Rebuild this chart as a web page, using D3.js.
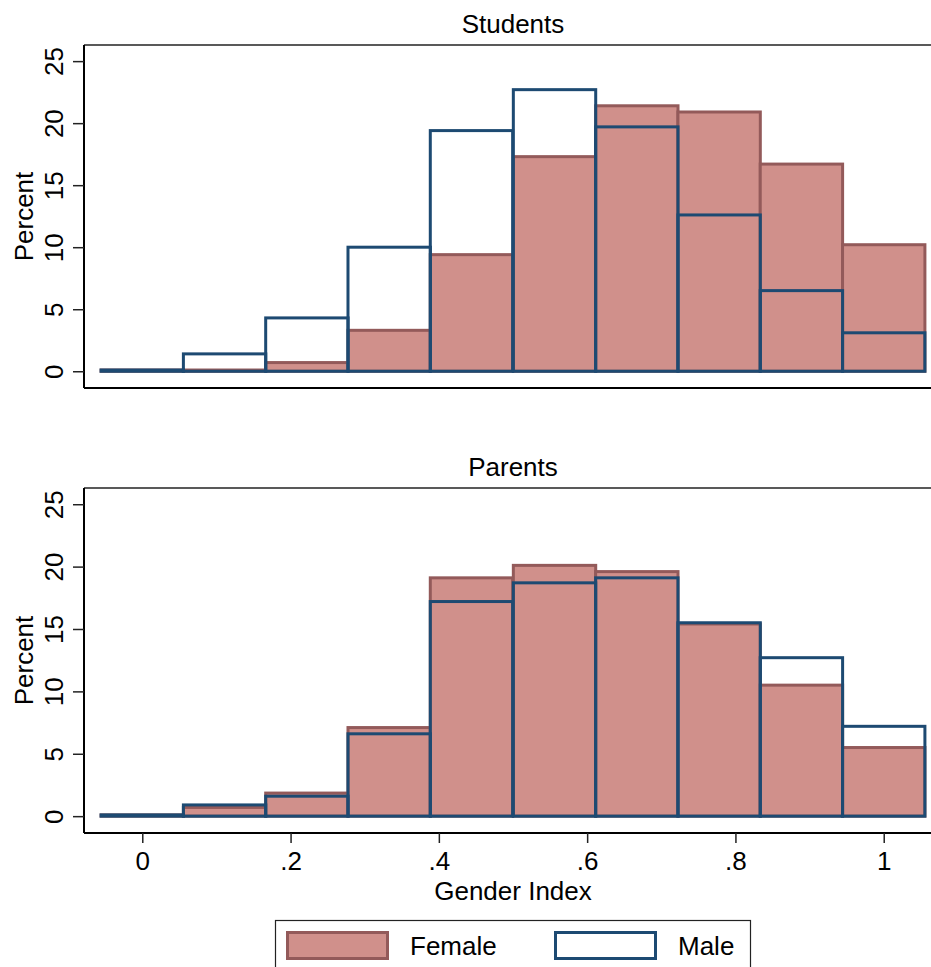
<!DOCTYPE html>
<html>
<head>
<meta charset="utf-8">
<script src="https://cdn.jsdelivr.net/npm/d3@7"></script>
<style>
  body { margin: 0; background: #fff; }
  svg { display: block; font-family: "Liberation Sans", Arial, sans-serif; }
</style>
</head>
<body>
<div id="chart"></div>
<script>
// bin centres of the Gender Index histogram (width 1/9)
const binCenters = [0, 0.111, 0.222, 0.333, 0.444, 0.556, 0.667, 0.778, 0.889, 1];
const binWidth = 0.1111;

const panels = ["Students", "Parents"];
const femaleValues = {
  Students: [0.1, 0.1, 0.7, 3.3, 9.4, 17.3, 21.4, 20.9, 16.7, 10.2],
  Parents:  [0.1, 0.7, 1.85, 7.1, 19.1, 20.1, 19.6, 15.4, 10.5, 5.5]
};
const maleValues = {
  Students: [0.1, 1.4, 4.3, 10.0, 19.4, 22.7, 19.7, 12.6, 6.5, 3.1],
  Parents:  [0.1, 0.9, 1.6, 6.6, 17.2, 18.7, 19.1, 15.5, 12.7, 7.2]
};

const xTicks = [0, 0.2, 0.4, 0.6, 0.8, 1];
const yTicks = [0, 5, 10, 15, 20, 25];
const legendLabels = ["Female", "Male"];

const femaleFill = "#d0908b";
const femaleStroke = "#935a5a";
const maleStroke = "#1d4a72";
const fontSize = "26px";

const width = 931;
const height = 967;

const svg = d3.select("#chart")
    .append("svg")
    .attr("width", width)
    .attr("height", height);

const x = d3.scaleLinear()
    .domain([-0.0786, 1.0786])
    .range([84, 942]);

const panelTops = [45, 488];
const panelBottoms = [388, 833];

const xFmt = d => d === 0 ? "0" : d === 1 ? "1" : d3.format(".1f")(d).replace(/^0/, "");

panels.forEach((name, i) => {
    const y = d3.scaleLinear()
        .domain([-1.35, 26.3])
        .range([panelBottoms[i], panelTops[i]]);

    const g = svg.append("g");

    // bars: female filled first, male outlines on top
    g.selectAll("rect.female")
        .data(femaleValues[name])
        .enter()
        .append("rect")
        .attr("x", (d, j) => x(binCenters[j] - binWidth / 2))
        .attr("y", d => y(d))
        .attr("width", (d, j) => x(binCenters[j] + binWidth / 2) - x(binCenters[j] - binWidth / 2))
        .attr("height", d => y(0) - y(d))
        .attr("fill", femaleFill)
        .attr("stroke", femaleStroke)
        .attr("stroke-width", 3);

    g.selectAll("rect.male")
        .data(maleValues[name])
        .enter()
        .append("rect")
        .attr("x", (d, j) => x(binCenters[j] - binWidth / 2))
        .attr("y", d => y(d))
        .attr("width", (d, j) => x(binCenters[j] + binWidth / 2) - x(binCenters[j] - binWidth / 2))
        .attr("height", d => y(0) - y(d))
        .attr("fill", "none")
        .attr("stroke", maleStroke)
        .attr("stroke-width", 3);

    // plot region border
    g.append("line")
        .attr("x1", 84).attr("x2", 942)
        .attr("y1", panelTops[i]).attr("y2", panelTops[i])
        .attr("stroke", "#222").attr("stroke-width", 1.5);
    g.append("line")
        .attr("x1", 84).attr("x2", 942)
        .attr("y1", panelBottoms[i]).attr("y2", panelBottoms[i])
        .attr("stroke", "#000").attr("stroke-width", 2);

    // y axis
    const yAxis = g.append("g")
        .attr("transform", "translate(84,0)")
        .call(d3.axisLeft(y).tickValues(yTicks).tickSize(11).tickPadding(0).tickSizeOuter(0));
    yAxis.select(".domain")
        .attr("d", `M0,${panelTops[i]}V${panelBottoms[i]}`)
        .attr("stroke", "#000").attr("stroke-width", 2);
    yAxis.selectAll(".tick line").attr("stroke", "#222").attr("stroke-width", 1.5);
    yAxis.selectAll(".tick text")
        .attr("x", null).attr("dy", null)
        .attr("transform", "translate(-21.5,0) rotate(-90)")
        .attr("text-anchor", "middle")
        .style("font-size", fontSize)
        .attr("fill", "#000")
        .attr("font-family", null);

    svg.append("text")
        .attr("text-anchor", "middle")
        .attr("transform", `translate(33,${(panelTops[i] + panelBottoms[i]) / 2}) rotate(-90)`)
        .style("font-size", fontSize)
        .text("Percent");

    svg.append("text")
        .attr("text-anchor", "middle")
        .attr("x", 513)
        .attr("y", panelTops[i] - 12)
        .style("font-size", fontSize)
        .text(name);

    // x axis only on the bottom panel
    if (i === panels.length - 1) {
        const xAxis = g.append("g")
            .attr("transform", `translate(0,${panelBottoms[i]})`)
            .call(d3.axisBottom(x).tickValues(xTicks).tickFormat(xFmt).tickSize(10).tickPadding(8).tickSizeOuter(0));
        xAxis.select(".domain").remove();
        xAxis.selectAll(".tick line").attr("stroke", "#222").attr("stroke-width", 1.5);
        xAxis.selectAll(".tick text")
            .attr("dy", null)
            .attr("y", 37)
            .style("font-size", fontSize)
            .attr("fill", "#000")
            .attr("font-family", null);

        svg.append("text")
            .attr("text-anchor", "middle")
            .attr("x", 513)
            .attr("y", 900)
            .style("font-size", fontSize)
            .text("Gender Index");
    }
});

// legend
const legend = svg.append("g");
legend.append("rect")
    .attr("x", 275.5).attr("y", 920.5)
    .attr("width", 475).attr("height", 60)
    .attr("fill", "none").attr("stroke", "#222").attr("stroke-width", 1.2);

const swatchX = [286, 554];
const labelX = [410, 678];
legendLabels.forEach((lab, k) => {
    legend.append("rect")
        .attr("x", swatchX[k] + 1.5).attr("y", 932.5)
        .attr("width", 100).attr("height", 26)
        .attr("fill", k === 0 ? femaleFill : "#fff")
        .attr("stroke", k === 0 ? femaleStroke : maleStroke)
        .attr("stroke-width", 3);
    legend.append("text")
        .attr("x", labelX[k])
        .attr("y", 955)
        .style("font-size", fontSize)
        .text(lab);
});
</script>
</body>
</html>
